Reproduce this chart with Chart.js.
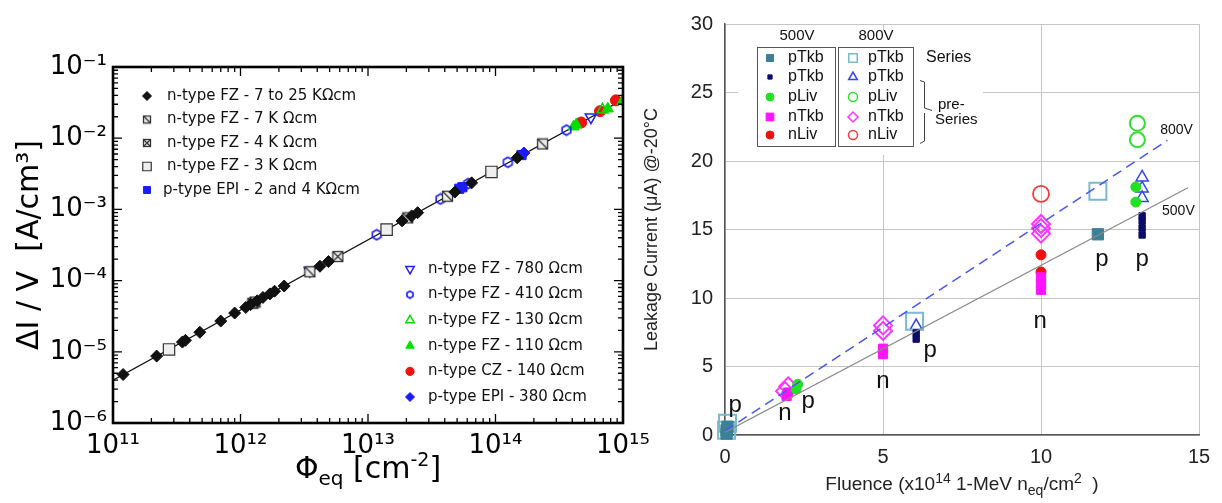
<!DOCTYPE html>
<html>
<head>
<meta charset="utf-8">
<script src="https://cdn.jsdelivr.net/npm/chart.js@4.4.1/dist/chart.umd.min.js"></script>
<style>
  html, body { margin: 0; padding: 0; background: #fff; }
  body { width: 1222px; height: 503px; position: relative; overflow: hidden; }
  #damageChart { position: absolute; left: 0; top: 0; }
  #leakageChart { position: absolute; left: 640px; top: 0; }
</style>
</head>
<body>
<canvas id="damageChart" width="660" height="503"></canvas>
<canvas id="leakageChart" width="582" height="503"></canvas>
<script>
// ---- left panel: volume current vs fluence (log-log) ----
const fluenceDecades = [11, 12, 13, 14, 15];
const currentDecades = [-6, -5, -4, -3, -2, -1];

const fzHighX = [1.2e11, 2.2e11, 3.5e11, 3.7e11, 4.8e11, 7.0e11, 9.0e11, 1.1e12, 1.2e12, 1.35e12, 1.5e12, 1.7e12, 1.85e12, 2.2e12, 4.2e12, 4.9e12, 1.85e13, 2.2e13, 2.45e13, 4.8e13, 6.5e13, 1.48e14];
const fzHighY = [4.8e-6, 8.7e-6, 1.37e-5, 1.45e-5, 1.88e-5, 2.7e-5, 3.5e-5, 4.2e-5, 4.6e-5, 5.2e-5, 5.8e-5, 6.5e-5, 7.1e-5, 8.4e-5, 1.59e-4, 1.85e-4, 6.9e-4, 8.1e-4, 9.0e-4, 1.75e-3, 2.36e-3, 5.3e-3];
const fz7kX = [1.3e12, 3.5e12, 2.05e13, 4.2e13, 2.34e14];
const fz7kY = [5.0e-5, 1.33e-4, 7.6e-4, 1.53e-3, 8.3e-3];
const fz4kX = [1.25e12, 5.8e12];
const fz4kY = [4.8e-5, 2.18e-4];
const fz3kX = [2.75e11, 1.4e13, 9.3e13];
const fz3kY = [1.08e-5, 5.2e-4, 3.36e-3];
const epiHighX = [5.2e13, 5.5e13, 1.6e14];
const epiHighY = [1.95e-3, 2.05e-3, 5.8e-3];
const fz780X = [3.5e12, 5.6e14];
const fz780Y = [1.38e-4, 1.97e-2];
const fz410X = [1.17e13, 3.7e13, 6.1e13, 1.25e14, 3.6e14];
const fz410Y = [4.4e-4, 1.4e-3, 2.3e-3, 4.6e-3, 1.3e-2];
const fz130X = [6.9e14, 1.0e15];
const fz130Y = [2.5e-2, 3.3e-2];
const fz110X = [4.1e14, 4.3e14, 7.6e14, 1.0e15];
const fz110Y = [1.45e-2, 1.55e-2, 2.6e-2, 3.4e-2];
const cz140X = [4.7e14, 6.6e14, 8.8e14];
const cz140Y = [1.66e-2, 2.4e-2, 3.4e-2];
const epi380X = [1.67e14];
const epi380Y = [6.2e-3];
const fitX = [1e11, 1e15];
const fitY = [4.0e-6, 3.5e-2];

const leftNames = [
    "n-type FZ - 7 to 25 KΩcm",
    "n-type FZ - 7 K Ωcm",
    "n-type FZ - 4 K Ωcm",
    "n-type FZ - 3 K Ωcm",
    "p-type EPI - 2 and 4 KΩcm",
    "n-type FZ - 780 Ωcm",
    "n-type FZ - 410 Ωcm",
    "n-type FZ - 130 Ωcm",
    "n-type FZ - 110 Ωcm",
    "n-type CZ - 140 Ωcm",
    "p-type EPI - 380 Ωcm",
];

// ---- right panel: leakage current vs fluence ----
const fluenceTicks = [0, 5, 10, 15];
const leakageTicks = [0, 5, 10, 15, 20, 25, 30];

const pTkbSeries500X = [0.05, 0.05, 0.08, 11.8];
const pTkbSeries500Y = [0.1, 0.35, 0.6, 14.65];
const pTkbPre500X = [6.05, 6.05, 13.2, 13.2, 13.2, 13.2];
const pTkbPre500Y = [7.0, 7.45, 14.6, 15.1, 15.6, 16.0];
const pLiv500X = [2.25, 2.3, 13.0, 13.0];
const pLiv500Y = [3.35, 3.7, 17.0, 18.1];
const nTkb500X = [1.95, 2.0, 5.0, 5.0, 10.0, 10.0, 10.0];
const nTkb500Y = [2.85, 3.1, 5.9, 6.3, 10.6, 11.0, 11.5];
const nLiv500X = [10.0, 10.0];
const nLiv500Y = [11.9, 13.15];
const pTkbSeries800X = [0.05, 0.08, 6.0, 11.8];
const pTkbSeries800Y = [0.35, 0.85, 8.3, 17.8];
const pTkbPre800X = [6.05, 13.2, 13.2, 13.2];
const pTkbPre800Y = [7.95, 17.3, 18.0, 18.8];
const pLiv800X = [13.05, 13.05];
const pLiv800Y = [21.55, 22.75];
const nTkb800X = [1.9, 2.0, 5.0, 5.0, 10.0, 10.0, 10.0];
const nTkb800Y = [3.2, 3.55, 7.6, 8.0, 14.7, 15.1, 15.4];
const nLiv800X = [10.0];
const nLiv800Y = [17.6];
const fit800X = [0, 14.0];
const fit800Y = [0.3, 21.5];
const fit500X = [0, 14.65];
const fit500Y = [0.2, 18.05];

const typeLabels = ["p", "n", "p", "n", "p", "n", "p", "p"];
const typeLabelX = [0.32, 1.9, 2.63, 5.0, 6.49, 9.97, 11.93, 13.2];
const typeLabelY = [2.13, 1.56, 2.49, 3.9, 6.18, 8.3, 12.8, 12.8];
const legendNames = ["pTkb", "pTkb", "pLiv", "nTkb", "nLiv"];

const leftFont = '"DejaVu Sans", sans-serif';
const rightFont = '"Liberation Sans", Arial, sans-serif';

const supMap = { "-": "⁻", "0": "⁰", "1": "¹", "2": "²", "3": "³", "4": "⁴", "5": "⁵", "6": "⁶", "7": "⁷", "8": "⁸", "9": "⁹" };
const sup = (s) => String(s).replace(/[-0-9]/g, (ch) => supMap[ch]);

function decadeTicks(decades) {
    const ticks = [];
    decades.forEach((e, i) => {
        const last = i === decades.length - 1;
        for (let m = 1; m <= (last ? 1 : 9); m++) ticks.push({ value: Number(`${m}e${e}`) });
    });
    return ticks;
}

function isDecade(v) {
    const e = Math.round(Math.log10(v));
    return Math.abs(v / Math.pow(10, e) - 1) < 1e-9;
}

function decadeLabel(v) {
    return isDecade(v) ? "10" + sup(Math.round(Math.log10(v))) : "";
}

function makeMarker(kind, size, color) {
    const c = document.createElement("canvas");
    c.width = size;
    c.height = size;
    const g = c.getContext("2d");
    g.strokeStyle = color;
    g.lineWidth = 1.3;
    const m = 1.5;
    const s = size - 3;
    if (kind === "hex") {
        g.lineWidth = 1.6;
        g.beginPath();
        for (let k = 0; k < 6; k++) {
            const a = Math.PI / 6 + k * Math.PI / 3;
            const px = size / 2 + (size / 2 - 1.5) * Math.cos(a);
            const py = size / 2 + (size / 2 - 1.5) * Math.sin(a);
            if (k === 0) g.moveTo(px, py); else g.lineTo(px, py);
        }
        g.closePath();
        g.stroke();
        return c;
    }
    g.fillStyle = "#ececec";
    g.fillRect(m, m, s, s);
    g.strokeRect(m, m, s, s);
    g.beginPath();
    g.moveTo(m, m);
    g.lineTo(m + s, m + s);
    if (kind === "cross") {
        g.moveTo(m + s, m);
        g.lineTo(m, m + s);
    }
    g.stroke();
    return c;
}

const slashBig = makeMarker("slash", 13, "#333");
const crossBig = makeMarker("cross", 13, "#333");
const hexBig = makeMarker("hex", 13, "#1f1fff");
const slashSmall = makeMarker("slash", 10, "#333");
const crossSmall = makeMarker("cross", 10, "#333");
const hexSmall = makeMarker("hex", 10, "#1f1fff");

const open = "rgba(255,255,255,0)";

const leftStyles = [
    { pointStyle: "rectRot", pointRadius: 6, backgroundColor: "#111", borderColor: "#111", borderWidth: 1 },
    { pointStyle: slashBig, legendStyle: slashSmall },
    { pointStyle: crossBig, legendStyle: crossSmall },
    { pointStyle: "rect", pointRadius: 8, backgroundColor: "#efefef", borderColor: "#333", borderWidth: 1.2 },
    { pointStyle: "rect", pointRadius: 6.5, backgroundColor: "#1b1bff", borderColor: "#1b1bff", borderWidth: 1 },
    { pointStyle: "triangle", pointRotation: 180, pointRadius: 6.5, backgroundColor: open, borderColor: "#2222ff", borderWidth: 1.5 },
    { pointStyle: hexBig, legendStyle: hexSmall },
    { pointStyle: "triangle", pointRadius: 6.5, backgroundColor: open, borderColor: "#00dd00", borderWidth: 1.5 },
    { pointStyle: "triangle", pointRadius: 6.5, backgroundColor: "#00dd00", borderColor: "#00dd00", borderWidth: 1 },
    { pointStyle: "circle", pointRadius: 5.5, backgroundColor: "#ee1111", borderColor: "#ee1111", borderWidth: 1 },
    { pointStyle: "rectRot", pointRadius: 6, backgroundColor: "#1b1bff", borderColor: "#1b1bff", borderWidth: 1 },
];

const leftSeries = [
    [fzHighX, fzHighY], [fz7kX, fz7kY], [fz4kX, fz4kY], [fz3kX, fz3kY], [epiHighX, epiHighY],
    [fz780X, fz780Y], [fz410X, fz410Y], [fz130X, fz130Y], [fz110X, fz110Y], [cz140X, cz140Y], [epi380X, epi380Y],
];

function toPoints(xs, ys) {
    return xs.map((x, i) => ({ x, y: ys[i] }));
}

const leftDatasets = leftSeries.map(([xs, ys], i) => ({
    label: leftNames[i],
    data: toPoints(xs, ys),
    ...leftStyles[i],
}));
leftDatasets.push({
    label: "fit",
    data: toPoints(fitX, fitY),
    showLine: true,
    pointRadius: 0,
    borderColor: "#111",
    borderWidth: 1.3,
});

const logFrame = {
    id: "logFrame",
    afterDatasetsDraw(chart) {
        const { ctx, chartArea: a, scales: { x, y } } = chart;
        ctx.save();
        ctx.strokeStyle = "#000";
        ctx.lineWidth = 1.3;
        ctx.beginPath();
        x.ticks.forEach((t) => {
            const px = x.getPixelForValue(t.value);
            const len = isDecade(t.value) ? 9 : 5;
            ctx.moveTo(px, a.bottom);
            ctx.lineTo(px, a.bottom - len);
            ctx.moveTo(px, a.top);
            ctx.lineTo(px, a.top + len);
        });
        y.ticks.forEach((t) => {
            const py = y.getPixelForValue(t.value);
            const len = isDecade(t.value) ? 9 : 5;
            ctx.moveTo(a.left, py);
            ctx.lineTo(a.left + len, py);
            ctx.moveTo(a.right, py);
            ctx.lineTo(a.right - len, py);
        });
        ctx.stroke();
        ctx.lineWidth = 2.6;
        ctx.strokeRect(a.left, a.top, a.right - a.left, a.bottom - a.top);
        ctx.restore();
    },
};

function drawMarker(ctx, ds, x, y, scale) {
    const style = ds.legendStyle || ds.pointStyle;
    ctx.fillStyle = ds.backgroundColor || open;
    ctx.strokeStyle = ds.borderColor || "#000";
    ctx.lineWidth = ds.borderWidth || 1;
    Chart.helpers.drawPoint(ctx, {
        pointStyle: style,
        radius: (ds.pointRadius || 5) * scale,
        rotation: ds.pointRotation || 0,
        borderWidth: ds.borderWidth || 1,
    }, x, y);
}

function drawRuns(ctx, runs, family, cx, baseline) {
    let total = 0;
    runs.forEach(([text, size]) => {
        ctx.font = `${size}px ${family}`;
        total += ctx.measureText(text).width;
    });
    let x = cx - total / 2;
    ctx.textAlign = "left";
    ctx.textBaseline = "alphabetic";
    runs.forEach(([text, size, dy]) => {
        ctx.font = `${size}px ${family}`;
        ctx.fillText(text, x, baseline + dy);
        x += ctx.measureText(text).width;
    });
}

const leftLegend = {
    id: "leftLegend",
    afterDraw(chart) {
        const { ctx } = chart;
        const sets = chart.data.datasets;
        ctx.save();
        ctx.font = `15px ${leftFont}`;
        ctx.textBaseline = "middle";
        for (let i = 0; i < 5; i++) {
            const yy = 96 + i * 23.5;
            drawMarker(ctx, sets[i], 147, yy, 0.75);
            ctx.fillStyle = "#111";
            ctx.font = `15px ${leftFont}`;
            ctx.textAlign = "left";
            ctx.fillText(leftNames[i], i === 4 ? 163 : 167, yy);
        }
        for (let i = 5; i < 11; i++) {
            const yy = 269 + (i - 5) * 25.6;
            drawMarker(ctx, sets[i], 410, yy, 0.75);
            ctx.fillStyle = "#111";
            ctx.font = `15px ${leftFont}`;
            ctx.textAlign = "left";
            ctx.fillText(leftNames[i], 428, yy);
        }
        ctx.fillStyle = "#000";
        drawRuns(ctx, [["Φ", 30, 0], ["eq", 20, 7], [" [cm", 30, 0], ["-2", 19, -12], ["]", 30, 0]], leftFont, 368, 478);
        ctx.restore();
    },
};

new Chart(document.getElementById("damageChart"), {
    type: "scatter",
    data: { datasets: leftDatasets },
    options: {
        responsive: false,
        animation: false,
        events: [],
        layout: { padding: { left: 0, right: 37, top: 67, bottom: 0 } },
        plugins: { legend: { display: false }, tooltip: { enabled: false } },
        scales: {
            x: {
                type: "logarithmic",
                min: 1e11,
                max: 1e15,
                afterBuildTicks: (s) => { s.ticks = decadeTicks(fluenceDecades); },
                afterFit: (s) => { s.height = 80; },
                grid: { display: false, drawTicks: false },
                border: { display: false },
                ticks: { autoSkip: false, maxRotation: 0, minRotation: 0, padding: 8, color: "#000", font: { family: leftFont, size: 26 }, callback: decadeLabel },
            },
            y: {
                type: "logarithmic",
                min: 1e-6,
                max: 1e-1,
                afterBuildTicks: (s) => { s.ticks = decadeTicks(currentDecades); },
                afterFit: (s) => { s.width = 113; },
                grid: { display: false, drawTicks: false },
                border: { display: false },
                ticks: { autoSkip: false, padding: 6, color: "#000", font: { family: leftFont, size: 26 }, callback: decadeLabel },
                title: { display: true, text: "ΔI / V  [A/cm³]", color: "#000", font: { family: leftFont, size: 30 }, padding: { top: 12, bottom: 0 } },
            },
        },
    },
    plugins: [logFrame, leftLegend],
});

// ---- right chart ----
const rightStyles = [
    { pointStyle: "rect", pointRadius: 8, legendRadius: 5, backgroundColor: "#3b8096", borderColor: "#3b8096", borderWidth: 1 },
    { pointStyle: "rect", pointRadius: 4.5, legendRadius: 3, backgroundColor: "#0b0b6b", borderColor: "#0b0b6b", borderWidth: 1 },
    { pointStyle: "circle", pointRadius: 5, legendRadius: 4, backgroundColor: "#22e022", borderColor: "#22e022", borderWidth: 1 },
    { pointStyle: "rect", pointRadius: 6.5, legendRadius: 5.5, backgroundColor: "#ff14ff", borderColor: "#ff14ff", borderWidth: 1 },
    { pointStyle: "circle", pointRadius: 5, legendRadius: 4, backgroundColor: "#f01010", borderColor: "#f01010", borderWidth: 1 },
    { pointStyle: "rect", pointRadius: 12, legendRadius: 6, backgroundColor: open, borderColor: "#7ab9cf", borderWidth: 2 },
    { pointStyle: "triangle", pointRadius: 7, legendRadius: 5, backgroundColor: open, borderColor: "#3344ee", borderWidth: 1.5 },
    { pointStyle: "circle", pointRadius: 7.5, legendRadius: 4.5, backgroundColor: open, borderColor: "#33dd33", borderWidth: 2 },
    { pointStyle: "rectRot", pointRadius: 9, legendRadius: 5, backgroundColor: open, borderColor: "#ff33ff", borderWidth: 2 },
    { pointStyle: "circle", pointRadius: 8, legendRadius: 4.5, backgroundColor: open, borderColor: "#f03c3c", borderWidth: 1.8 },
];

const rightSeries = [
    [pTkbSeries500X, pTkbSeries500Y], [pTkbPre500X, pTkbPre500Y], [pLiv500X, pLiv500Y], [nTkb500X, nTkb500Y], [nLiv500X, nLiv500Y],
    [pTkbSeries800X, pTkbSeries800Y], [pTkbPre800X, pTkbPre800Y], [pLiv800X, pLiv800Y], [nTkb800X, nTkb800Y], [nLiv800X, nLiv800Y],
];

const rightDatasets = [
    { label: "800V", data: toPoints(fit800X, fit800Y), showLine: true, pointRadius: 0, borderColor: "#4a58f0", borderWidth: 1.5, borderDash: [10, 6] },
    { label: "500V", data: toPoints(fit500X, fit500Y), showLine: true, pointRadius: 0, borderColor: "#8a8a8a", borderWidth: 1.2 },
    ...rightSeries.map(([xs, ys], i) => ({
        label: `${i < 5 ? "500V" : "800V"} ${legendNames[i % 5]}`,
        data: toPoints(xs, ys),
        clip: false,
        ...rightStyles[i],
    })),
];

const rightExtras = {
    id: "rightExtras",
    afterDraw(chart) {
        const { ctx, scales: { x, y } } = chart;
        const sets = chart.data.datasets;
        ctx.save();

        // type labels and line names
        ctx.fillStyle = "#111";
        ctx.font = `24px ${rightFont}`;
        ctx.textAlign = "center";
        ctx.textBaseline = "middle";
        typeLabels.forEach((t, i) => {
            ctx.fillText(t, x.getPixelForValue(typeLabelX[i]), y.getPixelForValue(typeLabelY[i]));
        });
        ctx.font = `14px ${rightFont}`;
        ctx.textAlign = "left";
        ctx.fillText("800V", x.getPixelForValue(13.77), y.getPixelForValue(22.25));
        ctx.fillText("500V", x.getPixelForValue(13.83), y.getPixelForValue(16.35));

        // legend block
        ctx.fillStyle = "#fff";
        ctx.fillRect(98, 30, 245, 125);
        ctx.strokeStyle = "#555";
        ctx.lineWidth = 1;
        ctx.strokeRect(117.5, 47.5, 78, 99);
        ctx.strokeRect(198.5, 47.5, 75, 99);
        ctx.fillStyle = "#111";
        ctx.font = `15px ${rightFont}`;
        ctx.textAlign = "center";
        ctx.fillText("500V", 157, 36);
        ctx.fillText("800V", 236, 36);
        const rows = [58, 77, 97, 117, 135];
        for (let i = 0; i < 5; i++) {
            [sets[2 + i], sets[7 + i]].forEach((ds, k) => {
                const mx = k === 0 ? 130 : 213;
                ctx.fillStyle = ds.backgroundColor;
                ctx.strokeStyle = ds.borderColor;
                ctx.lineWidth = Math.min(ds.borderWidth, 1.5);
                Chart.helpers.drawPoint(ctx, { pointStyle: ds.pointStyle, radius: ds.legendRadius, rotation: 0, borderWidth: 1 }, mx, rows[i]);
                ctx.fillStyle = "#111";
                ctx.font = `16px ${rightFont}`;
                ctx.textAlign = "left";
                ctx.fillText(legendNames[i], k === 0 ? 148 : 228, rows[i]);
            });
        }
        ctx.font = `16px ${rightFont}`;
        ctx.fillText("Series", 286, 58);
        ctx.font = `15px ${rightFont}`;
        ctx.fillText("pre-", 298, 105);
        ctx.fillText("Series", 295, 120);
        ctx.strokeStyle = "#444";
        ctx.lineWidth = 1;
        ctx.beginPath();
        ctx.moveTo(280, 80.5);
        ctx.lineTo(284.5, 82);
        ctx.lineTo(284.5, 108);
        ctx.lineTo(292, 110.5);
        ctx.moveTo(284.5, 113);
        ctx.lineTo(284.5, 141);
        ctx.lineTo(280, 143.5);
        ctx.stroke();

        // x title
        ctx.fillStyle = "#222";
        drawRuns(ctx, [["Fluence (x10", 19, 0], ["14", 14, -7], [" 1-MeV n", 19, 0], ["eq", 14, 5], ["/cm", 19, 0], ["2", 14, -7], ["  )", 19, 0]], rightFont, 322, 490);
        ctx.restore();
    },
};

new Chart(document.getElementById("leakageChart"), {
    type: "scatter",
    data: { datasets: rightDatasets },
    options: {
        responsive: false,
        animation: false,
        events: [],
        layout: { padding: { left: 0, right: 23, top: 13, bottom: 0 } },
        plugins: { legend: { display: false }, tooltip: { enabled: false } },
        scales: {
            x: {
                min: 0,
                max: 15,
                afterBuildTicks: (s) => { s.ticks = fluenceTicks.map((v) => ({ value: v })); },
                afterFit: (s) => { s.height = 68; },
                grid: { color: "#c6c6c6", drawTicks: false },
                border: { color: "#555", width: 1.5 },
                ticks: { padding: 10, maxRotation: 0, color: "#222", font: { family: rightFont, size: 20 } },
            },
            y: {
                min: 0,
                max: 30,
                afterBuildTicks: (s) => { s.ticks = leakageTicks.map((v) => ({ value: v })); },
                afterFit: (s) => { s.width = 85; },
                grid: { color: "#c6c6c6", drawTicks: false },
                border: { color: "#555", width: 1.5 },
                ticks: { padding: 12, color: "#222", font: { family: rightFont, size: 20 } },
                title: { display: true, text: "Leakage Current (μA) @-20°C", color: "#222", font: { family: rightFont, size: 18 }, padding: { top: 1, bottom: 0 } },
            },
        },
    },
    plugins: [rightExtras],
});
</script>
</body>
</html>
